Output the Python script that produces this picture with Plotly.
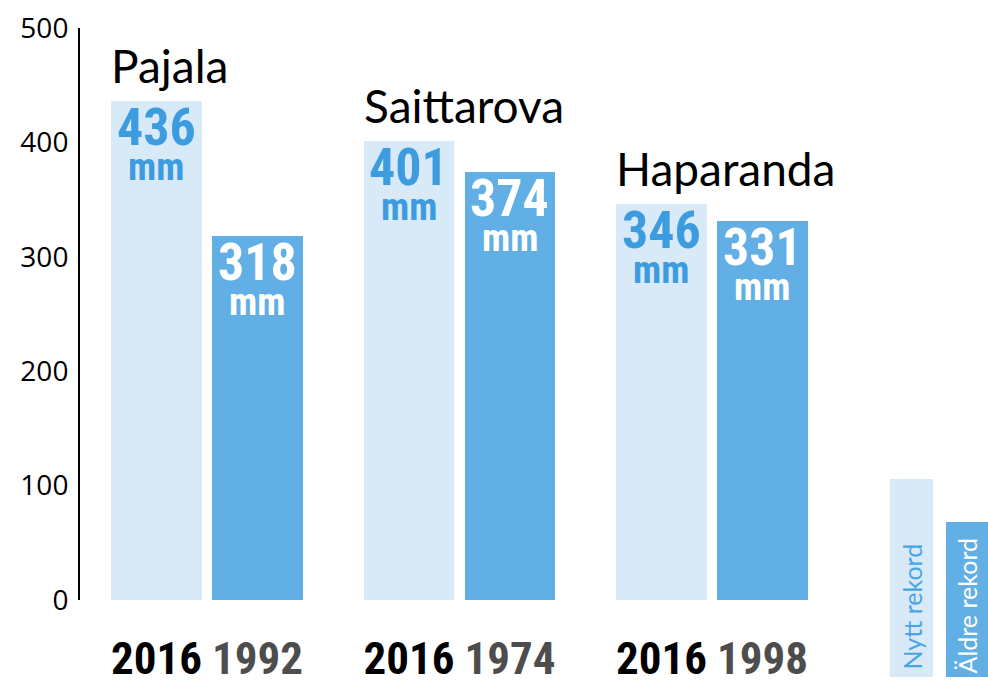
import plotly.graph_objects as go

# ---- data ----
places = ["Pajala", "Saittarova", "Haparanda"]
new_years = ["2016", "2016", "2016"]
old_years = ["1992", "1974", "1998"]
new_vals = [436, 401, 346]
old_vals = [318, 374, 331]
y_ticks = [0, 100, 200, 300, 400, 500]
legend_labels = ["Nytt rekord", "Äldre rekord"]

LIGHT = "#d8eaf8"
DARK = "#62afe5"
BLUE_TXT = "#3d9be0"
NARROW = "Liberation Sans Narrow, Roboto Condensed, Roboto, sans-serif"
TITLE_FONT = "Lato, Open Sans, sans-serif"

GROUP_STEP = 2.5
BAR_W = 0.9
x_new = [i * GROUP_STEP for i in range(len(places))]
x_old = [i * GROUP_STEP + 1 for i in range(len(places))]

fig = go.Figure()
fig.add_trace(go.Bar(x=x_new, y=new_vals, width=BAR_W, marker=dict(color=LIGHT, line=dict(width=0)),
                     hoverinfo="skip", showlegend=False))
fig.add_trace(go.Bar(x=x_old, y=old_vals, width=BAR_W, marker=dict(color=DARK, line=dict(width=0)),
                     hoverinfo="skip", showlegend=False))

ann = []
for i, p in enumerate(places):
    # place title
    ann.append(dict(x=x_new[i] - BAR_W / 2, y=new_vals[i], xref="x", yref="y", text=p,
                    xanchor="left", yanchor="bottom", yshift=6, xshift=-2, showarrow=False,
                    font=dict(family=TITLE_FONT, size=46, color="#000000")))
    for xv, v, col in ((x_new[i], new_vals[i], BLUE_TXT), (x_old[i], old_vals[i], "#ffffff")):
        ann.append(dict(x=xv, y=v, xref="x", yref="y", text="<b>%d</b>" % v,
                        xanchor="center", yanchor="top", yshift=6, showarrow=False,
                        font=dict(family=NARROW, size=52, color=col)))
        ann.append(dict(x=xv, y=v, xref="x", yref="y", text="<b>mm</b>",
                        xanchor="center", yanchor="top", yshift=-42, showarrow=False,
                        font=dict(family=NARROW, size=38, color=col)))

# legend text (rotated)
ann.append(dict(x=(911.5 - 80) / 908, y=(600 - 607) / 572, xref="paper", yref="paper",
                text=legend_labels[0], textangle=-90, showarrow=False,
                xanchor="center", yanchor="middle",
                font=dict(family=TITLE_FONT, size=25, color="#4aa3e3")))
ann.append(dict(x=(966.5 - 80) / 908, y=(600 - 606) / 572, xref="paper", yref="paper",
                text=legend_labels[1], textangle=-90, showarrow=False,
                xanchor="center", yanchor="middle",
                font=dict(family=TITLE_FONT, size=25, color="#ffffff")))

shapes = [
    dict(type="rect", xref="paper", yref="paper", x0=(890 - 80) / 908, x1=(933 - 80) / 908,
         y0=(600 - 677) / 572, y1=(600 - 479) / 572, fillcolor=LIGHT, line=dict(width=0), layer="below"),
    dict(type="rect", xref="paper", yref="paper", x0=(946 - 80) / 908, x1=1.0,
         y0=(600 - 677) / 572, y1=(600 - 522) / 572, fillcolor=DARK, line=dict(width=0), layer="below"),
]

tickvals = []
ticktext = []
for i in range(len(places)):
    tickvals += [x_new[i], x_old[i]]
    ticktext += ["<b>%s</b>" % new_years[i],
                 "<b><span style='color:#4d4d4d'>%s</span></b>" % old_years[i]]

fig.update_layout(
    width=988, height=683,
    margin=dict(l=80, r=0, t=28, b=83, autoexpand=False),
    paper_bgcolor="white", plot_bgcolor="white",
    bargap=0, showlegend=False,
    annotations=ann, shapes=shapes,
    xaxis=dict(range=[-0.757, -0.757 + 908 / 101], showgrid=False, zeroline=False, showline=False,
               automargin=False,
               tickvals=tickvals, ticktext=ticktext, ticks="outside", ticklen=19,
               tickcolor="rgba(0,0,0,0)",
               tickfont=dict(family=NARROW, size=45, color="#000000")),
    yaxis=dict(range=[0, 500], showgrid=False, zeroline=False, showline=True, linecolor="#000000",
               automargin=False,
               linewidth=2, tickvals=y_ticks, ticks="outside", ticklen=4,
               tickcolor="rgba(0,0,0,0)",
               tickfont=dict(family="Open Sans, sans-serif", size=28, color="#000000")),
)

fig.write_html("out.html", config={"displayModeBar": False},
               post_script="document.body.style.margin='0';document.body.style.overflow='hidden';")
